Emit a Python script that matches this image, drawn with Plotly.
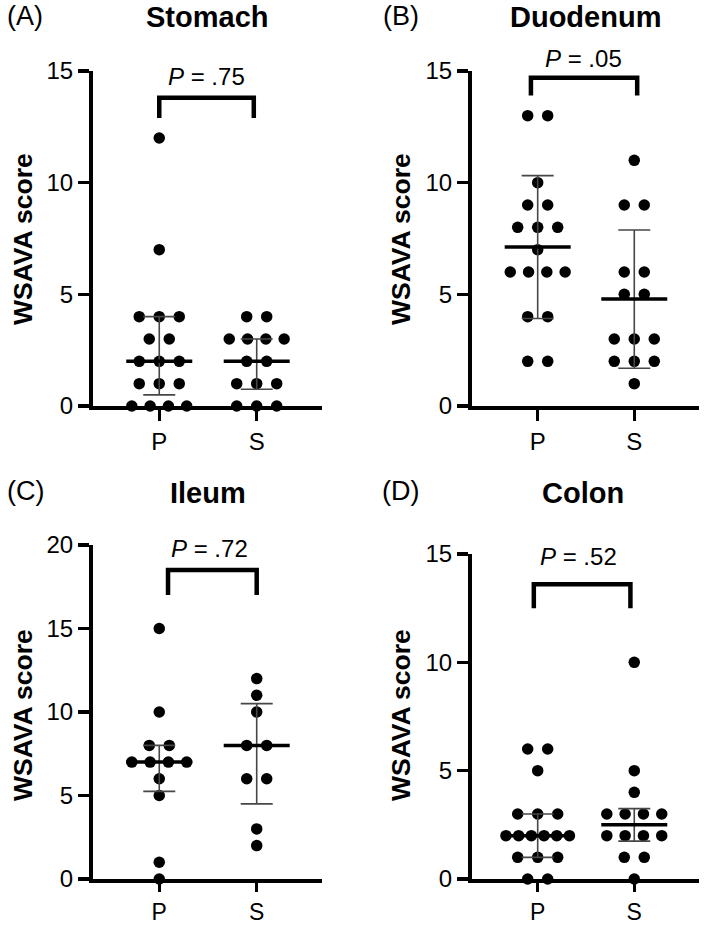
import numpy as np
import plotly.graph_objects as go

# ---------------- data ----------------
groups = ["P", "S"]
panel_titles = ["Stomach", "Duodenum", "Ileum", "Colon"]
panel_letters = ["(A)", "(B)", "(C)", "(D)"]
p_values = [".75", ".05", ".72", ".52"]

stomach_P = [12, 7, 4, 4, 4, 3, 3, 2, 2, 2, 1, 1, 1, 0, 0, 0, 0]
stomach_S = [4, 4, 3, 3, 3, 3, 2, 2, 1, 1, 1, 0, 0, 0]
duodenum_P = [13, 13, 10, 9, 9, 8, 8, 8, 7, 6, 6, 6, 6, 4, 4, 2, 2]
duodenum_S = [11, 9, 9, 6, 6, 5, 5, 3, 3, 3, 2, 2, 2, 1]
ileum_P = [15, 10, 8, 8, 7, 7, 7, 7, 6, 5, 1, 0]
ileum_S = [12, 11, 10, 8, 8, 6, 6, 3, 2]
colon_P = [6, 6, 5, 3, 3, 3, 2, 2, 2, 2, 2, 2, 1, 1, 1, 0, 0]
colon_S = [10, 5, 4, 3, 3, 3, 3, 2, 2, 2, 2, 1, 1, 0]

y_max = [15, 15, 20, 15]
y_dtick = [5, 5, 5, 5]
summary_kind = ["median", "mean", "median", "median"]  # median+IQR or mean+SD

panel_data = [
    (stomach_P, stomach_S),
    (duodenum_P, duodenum_S),
    (ileum_P, ileum_S),
    (colon_P, colon_S),
]

# ---------------- layout constants ----------------
W, H = 709, 927
FONT = "Arial, Liberation Sans, Helvetica, sans-serif"
# plot area pixel boxes: (left, right, top, bottom)
boxes = [
    (93, 322, 71, 406),
    (472, 699, 71, 406),
    (93, 322, 545, 879),
    (472, 699, 554, 879),
]
x_ticklen = [11, 11, 9, 9]
x_tickfont = [24, 24, 23, 23]
x_range = [-0.68, 1.67]
# bracket geometry per panel: x-left, x-right, y-top, y-bottom, text x, text y
brackets = [
    (0.0, 0.97, 13.8, 12.9, 0.48, 14.75),
    (-0.07, 1.03, 14.7, 13.9, 0.47, 15.55),
    (0.09, 1.0, 18.5, 17.0, 0.52, 19.8),
    (-0.04, 0.96, 13.6, 12.5, 0.42, 14.9),
]
title_pos = [(207, 17), (585, 17), (208, 493), (583, 493)]
letter_pos = [(25, 16), (401, 16), (25, 491), (400, 491)]
ytitle_pos = [(23, 239), (401, 239), (23, 715), (401, 715)]


def spacing_px(n):
    return {1: 0, 2: 20, 3: 20, 4: 18.3, 5: 15.5}.get(n, 12.7)


def swarm(values, center, px_per_unit):
    xs, ys = [], []
    vals, counts = np.unique(values, return_counts=True)
    for v, c in zip(vals, counts):
        sp = spacing_px(c) / px_per_unit
        for i in range(c):
            xs.append(center + (i - (c - 1) / 2) * sp)
            ys.append(v)
    return xs, ys


fig = go.Figure()
annotations = []

for k in range(4):
    xa = "x" if k == 0 else f"x{k+1}"
    ya = "y" if k == 0 else f"y{k+1}"
    l, r, t, b = boxes[k]
    px_per_unit = (r - l) / (x_range[1] - x_range[0])
    for gi, vals in enumerate(panel_data[k]):
        xs, ys = swarm(vals, gi, px_per_unit)
        fig.add_trace(go.Scatter(
            x=xs, y=ys, mode="markers", xaxis=xa, yaxis=ya,
            marker=dict(size=11.5, color="black"), cliponaxis=False,
            showlegend=False, hoverinfo="skip"))
    for gi, vals in enumerate(panel_data[k]):
        arr = np.array(vals, dtype=float)
        if summary_kind[k] == "mean":
            c = arr.mean()
            sd = arr.std(ddof=1)
            lo, hi = c - sd, c + sd
        else:
            c = np.median(arr)
            lo = np.percentile(arr, 25, method="weibull")
            hi = np.percentile(arr, 75, method="weibull")
        fig.add_trace(go.Scatter(
            x=[gi], y=[c], mode="markers", xaxis=xa, yaxis=ya,
            marker=dict(size=1, color="rgba(0,0,0,0)"),
            error_y=dict(type="data", symmetric=False, array=[hi - c],
                         arrayminus=[c - lo], width=16, thickness=1.6,
                         color="#474747"),
            cliponaxis=False, showlegend=False, hoverinfo="skip"))
        hw = 33 / px_per_unit
        fig.add_trace(go.Scatter(
            x=[gi - hw, gi + hw], y=[c, c], mode="lines", xaxis=xa, yaxis=ya,
            line=dict(color="black", width=3.5), cliponaxis=False,
            showlegend=False, hoverinfo="skip"))
    bx0, bx1, byt, byb, tx, ty = brackets[k]
    fig.add_trace(go.Scatter(
        x=[bx0, bx0, bx1, bx1], y=[byb, byt, byt, byb], mode="lines",
        xaxis=xa, yaxis=ya, line=dict(color="black", width=4.5),
        cliponaxis=False, showlegend=False, hoverinfo="skip"))
    # p-value text: placed in paper coordinates derived from the data value
    ty_px = b - ty / y_max[k] * (b - t)
    tx_px = l + (tx - x_range[0]) * px_per_unit
    annotations.append(dict(
        x=tx_px / W, y=1 - ty_px / H, xref="paper", yref="paper",
        text=f"<i>P</i> = {p_values[k]}",
        showarrow=False, font=dict(size=24, color="black", family=FONT),
        xanchor="center", yanchor="middle"))
    # titles & labels in paper coordinates
    tpx, tpy = title_pos[k]
    annotations.append(dict(
        x=tpx / W, y=1 - tpy / H, xref="paper", yref="paper",
        text=f"<b>{panel_titles[k]}</b>", showarrow=False,
        font=dict(size=29, color="black", family=FONT),
        xanchor="center", yanchor="middle"))
    lpx, lpy = letter_pos[k]
    annotations.append(dict(
        x=lpx / W, y=1 - lpy / H, xref="paper", yref="paper",
        text=panel_letters[k], showarrow=False,
        font=dict(size=27, color="black", family=FONT),
        xanchor="center", yanchor="middle"))
    ypx, ypy = ytitle_pos[k]
    annotations.append(dict(
        x=ypx / W, y=1 - ypy / H, xref="paper", yref="paper",
        text="<b>WSAVA score</b>", showarrow=False, textangle=-90,
        font=dict(size=26.5, color="black", family=FONT),
        xanchor="center", yanchor="middle"))

    xkey = "xaxis" if k == 0 else f"xaxis{k+1}"
    ykey = "yaxis" if k == 0 else f"yaxis{k+1}"
    fig.update_layout({
        xkey: dict(
            domain=[l / W, r / W], range=x_range, anchor=ya,
            tickmode="array", tickvals=[0, 1], ticktext=groups,
            showgrid=False, zeroline=False, showline=True, linecolor="black",
            linewidth=4, ticks="outside", ticklen=x_ticklen[k], tickwidth=3.5,
            tickcolor="black",
            tickfont=dict(size=x_tickfont[k], color="black", family=FONT),
            fixedrange=True, automargin=False),
        ykey: dict(
            domain=[1 - b / H, 1 - t / H], range=[0, y_max[k]], anchor=xa,
            tickmode="linear", tick0=0, dtick=y_dtick[k],
            showgrid=False, zeroline=False, showline=True, linecolor="black",
            linewidth=4, ticks="outside", ticklen=11, tickwidth=3.5,
            tickcolor="black", tickfont=dict(size=24, color="black", family=FONT),
            fixedrange=True, automargin=False),
    })

fig.update_layout(
    width=W, height=H, margin=dict(l=0, r=0, t=0, b=0, autoexpand=False),
    paper_bgcolor="white", plot_bgcolor="white",
    annotations=annotations, showlegend=False, hovermode=False,
    font=dict(family=FONT, color="black"),
)

post_js = (
    "document.documentElement.style.margin='0';"
    "document.documentElement.style.padding='0';"
    "document.documentElement.style.overflow='hidden';"
    "document.body.style.margin='0';document.body.style.padding='0';"
    "document.body.style.height='927px';document.body.style.overflow='hidden';"
    "var d=document.getElementsByClassName('plotly-graph-div')[0];"
    "d.style.position='fixed';d.style.top='0px';d.style.left='0px';"
)

fig.write_html(
    "out.html",
    config={"displayModeBar": False, "staticPlot": True},
    post_script=post_js,
)
